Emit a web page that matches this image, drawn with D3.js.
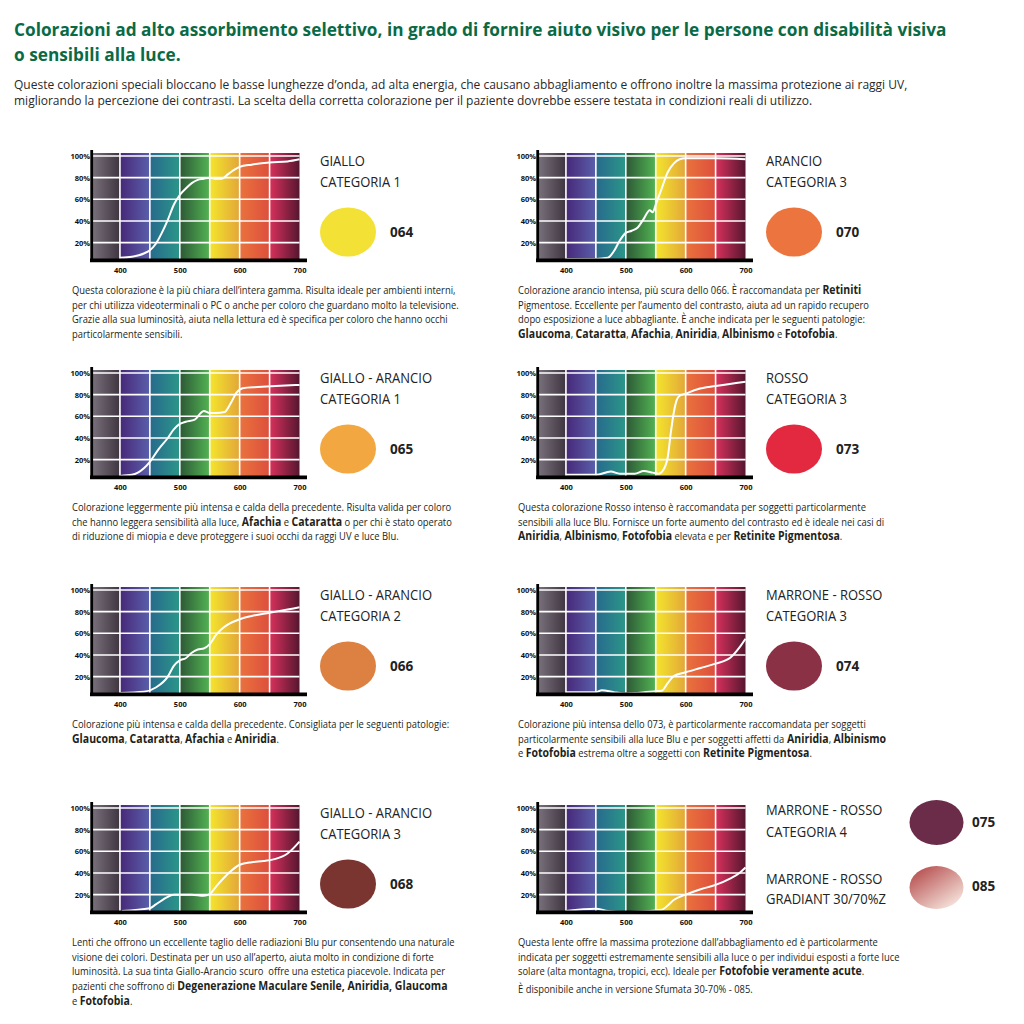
<!DOCTYPE html>
<html><head><meta charset="utf-8">
<script src="https://cdn.jsdelivr.net/npm/d3@7"></script>
<style>body{margin:0;background:#fff}svg{display:block}text{white-space:pre}</style>
</head><body><svg id="c" width="1024" height="1024"></svg>
<script>
// ---------- DATA ----------
const titleLines = [
  "Colorazioni ad alto assorbimento selettivo, in grado di fornire aiuto visivo per le persone con disabilità visiva",
  "o sensibili alla luce."
];
const introLines = [
  "Queste colorazioni speciali bloccano le basse lunghezze d’onda, ad alta energia, che causano abbagliamento e offrono inoltre la massima protezione ai raggi UV,",
  "migliorando la percezione dei contrasti. La scelta della corretta colorazione per il paziente dovrebbe essere testata in condizioni reali di utilizzo."
];
const bandEdges = [355, 400, 450, 500, 550, 600, 650, 700];
const bandColors = [
  ["#776f79", "#3f3541"],
  ["#472878", "#5a5fab"],
  ["#276a8c", "#2b9689"],
  ["#2c5836", "#52b352"],
  ["#f4e62c", "#e2a63a"],
  ["#ea733d", "#dc4f3c"],
  ["#d8315c", "#561630"]
];
const yTicks = [20, 40, 60, 80, 100];
const xTicks = [400, 500, 600, 700];

const panelNames = [
  ["GIALLO", "CATEGORIA 1"],
  ["ARANCIO", "CATEGORIA 3"],
  ["GIALLO - ARANCIO", "CATEGORIA 1"],
  ["ROSSO", "CATEGORIA 3"],
  ["GIALLO - ARANCIO", "CATEGORIA 2"],
  ["MARRONE - ROSSO", "CATEGORIA 3"],
  ["GIALLO - ARANCIO", "CATEGORIA 3"],
  ["MARRONE - ROSSO", "CATEGORIA 4"]
];
const panelCodes = ["064", "070", "065", "073", "066", "074", "068", "075"];
const swatchColors = ["#f3e136", "#ec743f", "#f3a741", "#e2293f", "#dc8142", "#8a3145", "#7a3531", "#6a2c48"];
const extraName = ["MARRONE - ROSSO", "GRADIANT 30/70%Z"];
const extraCode = "085";
const extraGradient = ["#b95555", "#f7e6de"];

const curve064 = [[400,6],[420,7],[440,10],[450,13],[460,19],[470,29],[480,41],[490,55],[500,64],[510,70],[520,75],[530,78],[540,79],[550,80],[560,79],[570,79],[580,83],[590,87],[600,90],[620,92],[650,94],[680,95],[700,97]];
const curve070 = [[400,5],[450,5],[470,6],[480,12],[490,22],[500,29],[510,31],[520,34],[530,42],[540,50],[545,48],[550,55],[560,70],[570,85],[580,93],[590,97],[600,98],[650,98],[700,97]];
const curve065 = [[400,5],[420,6],[440,12],[450,18],[465,30],[480,40],[490,48],[500,53],[510,55],[525,57],[535,63],[540,65],[550,63],[560,63],[575,64],[585,72],[595,82],[605,86],[630,87],[660,88],[700,89]];
const curve073 = [[400,6],[450,6],[475,9],[490,7],[500,7],[515,7],[530,9.5],[545,8],[555,7],[562,10],[570,22],[575,44],[580,63],[585,75],[590,79],[600,81],[620,85],[650,88],[700,92]];
const curve066 = [[400,5],[440,6],[460,10],[480,20],[490,30],[500,35],[510,37],[520,42],[530,45],[540,46],[550,50],[560,58],[570,64],[580,68],[600,73],[620,76],[650,79],[680,82],[700,84]];
const curve074 = [[400,5.6],[450,5.6],[460,7.5],[480,5.6],[500,4.4],[520,5],[550,6.5],[560,7],[570,14],[580,20.5],[600,24],[625,28],[650,32],[675,37.7],[690,47],[700,55]];
const curve068 = [[403,5],[450,7.5],[460,11],[480,18],[490,20],[500,20],[520,20],[540,19],[550,20.5],[560,27],[580,39],[600,47.6],[620,50],[640,51],[660,53],[680,58],[700,69]];
const curve075 = [[400,5],[450,7],[470,5],[500,4],[540,5],[560,6],[570,10],[580,15],[600,20],[625,25],[650,29],[675,35],[690,40],[700,45]];
const panelCurves = [curve064, curve070, curve065, curve073, curve066, curve074, curve068, curve075];

const panelTexts = [
  ["Questa colorazione è la più chiara dell’intera gamma. Risulta ideale per ambienti interni,",
   "per chi utilizza videoterminali o PC o anche per coloro che guardano molto la televisione.",
   "Grazie alla sua luminosità, aiuta nella lettura ed è specifica per coloro che hanno occhi",
   "particolarmente sensibili."],
  ["Colorazione arancio intensa, più scura dello 066. È raccomandata per **Retiniti**",
   "Pigmentose. Eccellente per l’aumento del contrasto, aiuta ad un rapido recupero",
   "dopo esposizione a luce abbagliante. È anche indicata per le seguenti patologie:",
   "**Glaucoma**, **Cataratta**, **Afachia**, **Aniridia**, **Albinismo** e **Fotofobia**."],
  ["Colorazione leggermente più intensa e calda della precedente. Risulta valida per coloro",
   "che hanno leggera sensibilità alla luce, **Afachia** e **Cataratta** o per chi è stato operato",
   "di riduzione di miopia e deve proteggere i suoi occhi da raggi UV e luce Blu."],
  ["Questa colorazione Rosso intenso è raccomandata per soggetti particolarmente",
   "sensibili alla luce Blu. Fornisce un forte aumento del contrasto ed è ideale nei casi di",
   "**Aniridia**, **Albinismo**, **Fotofobia** elevata e per **Retinite Pigmentosa**."],
  ["Colorazione più intensa e calda della precedente. Consigliata per le seguenti patologie:",
   "**Glaucoma**, **Cataratta**, **Afachia** e **Aniridia**."],
  ["Colorazione più intensa dello 073, è particolarmente raccomandata per soggetti",
   "particolarmente sensibili alla luce Blu e per soggetti affetti da **Aniridia**, **Albinismo**",
   "e **Fotofobia** estrema oltre a soggetti con **Retinite Pigmentosa**."],
  ["Lenti che offrono un eccellente taglio delle radiazioni Blu pur consentendo una naturale",
   "visione dei colori. Destinata per un uso all’aperto, aiuta molto in condizione di forte",
   "luminosità. La sua tinta Giallo-Arancio scuro  offre una estetica piacevole. Indicata per",
   "pazienti che soffrono di **Degenerazione Maculare Senile, Aniridia, Glaucoma**",
   "e **Fotofobia**."],
  ["Questa lente offre la massima protezione dall’abbagliamento ed è particolarmente",
   "indicata per soggetti estremamente sensibili alla luce o per individui esposti a forte luce",
   "solare (alta montagna, tropici, ecc). Ideale per **Fotofobie veramente acute**.",
   "È disponibile anche in versione Sfumata 30-70% - 085."]
];

// ---------- LAYOUT ----------
const F = "'Open Sans', 'DejaVu Sans', sans-serif";
const colX = [93, 539];
const rowY = [153, 370, 587, 805];
const plotW = 206.5, plotH = 106;
const TEXTC = "#231f20";

const svg = d3.select("#c");
const defs = svg.append("defs");
bandColors.forEach((c, i) => {
  const g = defs.append("linearGradient").attr("id", "band" + i)
    .attr("x1", 0).attr("x2", 1).attr("y1", 0).attr("y2", 0);
  g.append("stop").attr("offset", 0).attr("stop-color", c[0]);
  g.append("stop").attr("offset", 1).attr("stop-color", c[1]);
});
const eg = defs.append("linearGradient").attr("id", "grad085")
  .attr("x1", 0.15).attr("y1", 0.1).attr("x2", 0.85).attr("y2", 0.95);
eg.append("stop").attr("offset", 0).attr("stop-color", extraGradient[0]);
eg.append("stop").attr("offset", 1).attr("stop-color", extraGradient[1]);

const meas = svg.append("text").attr("visibility", "hidden").attr("font-family", F);
function textWidth(str, size, weight) {
  meas.attr("font-size", size).attr("font-weight", weight).text(str);
  return meas.node().getComputedTextLength();
}

// a line made of regular / **bold** runs, each run horizontally condensed
function richLine(parent, x, y, str, size, weight, fill, k, kb) {
  const g = parent.append("g").attr("transform", `translate(${x},${y})`);
  let cx = 0;
  str.split("**").forEach((seg, j) => {
    if (!seg) return;
    const bold = j % 2 === 1;
    const w = bold ? 700 : weight;
    const kk = bold ? (kb || k) : k;
    g.append("g").attr("transform", `translate(${cx},0) scale(${kk},1)`)
      .append("text").attr("font-family", F).attr("font-size", size)
      .attr("font-weight", w).attr("fill", fill).text(seg);
    cx += textWidth(seg, size, w) * kk;
  });
  return g;
}

// ---------- HEADER ----------
const titleSize = 18.5;
const kTitle = 933 / textWidth(titleLines[0], titleSize, 700);
titleLines.forEach((l, i) => richLine(svg, 14, 36 + i * 25, l, titleSize, 700, "#0a6a45", kTitle));
const introSize = 12.5;
const kIntro = 894 / textWidth(introLines[0], introSize, 400);
introLines.forEach((l, i) => richLine(svg, 14, 88.5 + i * 16, l, introSize, 400, "#2a2a2a", kIntro));

// ---------- PANELS ----------
const paraSize = 11.5;
const kPara = 384 / textWidth(panelTexts[0][0], paraSize, 400);
const kParaBold = kPara * 1.12;
const labelSize = 14;
const kLabel = 81 / textWidth("CATEGORIA 1", labelSize, 400);

const x = d3.scaleLinear().domain([355, 700]).range([0, plotW]);
const y = d3.scaleLinear().domain([0, 100]).range([111.3, 3]);
const line = d3.line().x(d => x(d[0])).y(d => y(d[1])).curve(d3.curveMonotoneX);

panelNames.forEach((names, i) => {
  const col = i % 2, row = Math.floor(i / 2);
  const ox = colX[col], oy = rowY[row];
  const g = svg.append("g").attr("transform", `translate(${ox},${oy})`);

  for (let b = 0; b < bandEdges.length - 1; b++) {
    g.append("rect").attr("x", x(bandEdges[b])).attr("y", 0)
      .attr("width", x(bandEdges[b + 1]) - x(bandEdges[b])).attr("height", plotH)
      .attr("fill", `url(#band${b})`);
  }
  yTicks.forEach(t => g.append("line").attr("x1", 0).attr("x2", plotW)
    .attr("y1", y(t)).attr("y2", y(t)).attr("stroke", "#fff").attr("stroke-width", 1.6));
  bandEdges.slice(1, -1).forEach(e => g.append("line").attr("x1", x(e)).attr("x2", x(e))
    .attr("y1", 0).attr("y2", plotH).attr("stroke", "#fff").attr("stroke-width", 1.6));
  g.append("path").attr("d", line(panelCurves[i])).attr("fill", "none")
    .attr("stroke", "#fff").attr("stroke-width", 2).attr("stroke-linejoin", "round");
  g.append("line").attr("x1", -1.3).attr("x2", -1.3).attr("y1", -3).attr("y2", 109)
    .attr("stroke", "#000").attr("stroke-width", 2.8);
  g.append("line").attr("x1", -3).attr("x2", 214).attr("y1", 107.4).attr("y2", 107.4)
    .attr("stroke", "#000").attr("stroke-width", 3.6);
  const ya = g.append("g").call(d3.axisLeft(y).tickValues(yTicks).tickFormat(d => d + "%").tickSize(0).tickPadding(3));
  ya.select(".domain").remove();
  ya.selectAll("text").attr("font-family", F).attr("font-size", 7.5).attr("font-weight", 700).attr("fill", "#111");
  const xa = g.append("g").attr("transform", "translate(0,107)")
    .call(d3.axisBottom(x).tickValues(xTicks).tickSize(0).tickPadding(7.5));
  xa.select(".domain").remove();
  xa.selectAll("text").attr("font-family", F).attr("font-size", 7.5).attr("font-weight", 700).attr("fill", "#111");

  const lx = ox + 227;
  if (i < 7) {
    names.forEach((n, j) => richLine(svg, lx, oy + 12.5 + j * 21, n, labelSize, 400, "#222", kLabel));
    svg.append("ellipse").attr("cx", lx + 28).attr("cy", oy + 79).attr("rx", 28).attr("ry", 24.5)
      .attr("fill", swatchColors[i]);
    svg.append("text").attr("x", lx + 70).attr("y", oy + 84).attr("font-family", F)
      .attr("font-size", 13.5).attr("font-weight", 700).attr("fill", "#222").text(panelCodes[i]);
  } else {
    names.forEach((n, j) => richLine(svg, lx, oy + 10 + j * 21.5, n, labelSize, 400, "#222", kLabel));
    svg.append("ellipse").attr("cx", 936.5).attr("cy", oy + 17.5).attr("rx", 27).attr("ry", 22.5)
      .attr("fill", swatchColors[i]);
    svg.append("text").attr("x", 972).attr("y", oy + 21.5).attr("font-family", F)
      .attr("font-size", 13.5).attr("font-weight", 700).attr("fill", "#222").text(panelCodes[i]);
    extraName.forEach((n, j) => richLine(svg, lx, oy + 79 + j * 19.5, n, labelSize, 400, "#222", kLabel));
    svg.append("ellipse").attr("cx", 936.5).attr("cy", oy + 82.5).attr("rx", 27).attr("ry", 21.5)
      .attr("fill", "url(#grad085)");
    svg.append("text").attr("x", 972).attr("y", oy + 86).attr("font-family", F)
      .attr("font-size", 13.5).attr("font-weight", 700).attr("fill", "#222").text(extraCode);
  }

  const tx = ox - 21;
  panelTexts[i].forEach((l, j) => {
    const extra = (i === 7 && j === 3) ? 2.5 : 0;
    richLine(svg, tx, oy + 141 + j * 14.7 + extra, l, paraSize, 400, TEXTC, kPara, kParaBold);
  });
});
meas.remove();
</script>
</body></html>
